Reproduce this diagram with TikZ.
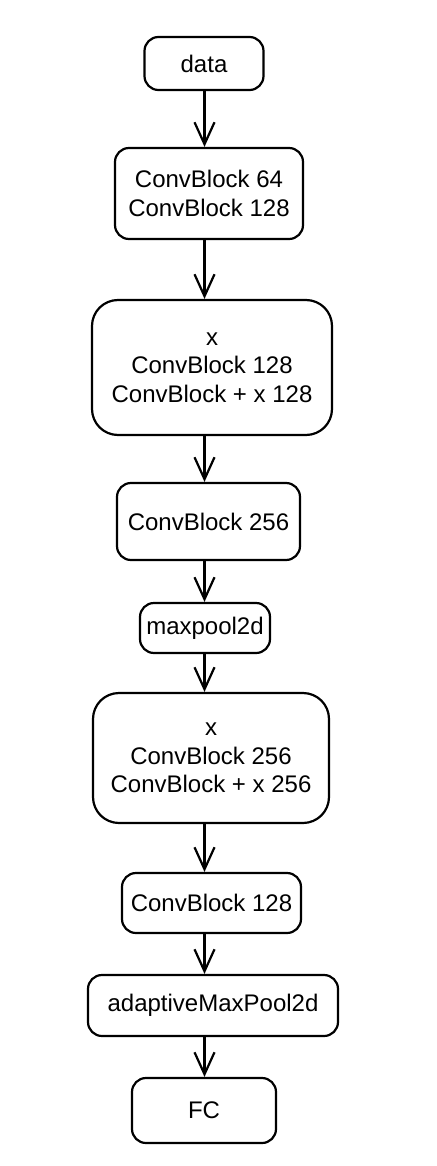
\documentclass[tikz,border=0pt]{standalone}
\usepackage{fontspec}
\setmainfont{Liberation Sans}
\usetikzlibrary{arrows.meta}
\tikzstyle{block} = [rectangle, rounded corners=14pt, draw=black, line width=2.2pt, text centered, align=center, inner sep=0pt, font=\fontsize{24}{28.5}\selectfont]
\tikzstyle{resblock} = [block, rounded corners=26pt]
\tikzstyle{arrow} = [line width=2.2pt, -{Straight Barb[length=22pt, width=20pt, line width=2.2pt]}]

\begin{document}
\begin{tikzpicture}[node distance=100pt]
\useasboundingbox (0,0) rectangle (436pt,-1166pt);
\coordinate (axis) at (204.5pt,0);

\node (data) [block, minimum width=119pt, minimum height=53pt] at (204pt,-63.5pt) {data};
\node (conv1) [block, below of=data, yshift=-30pt, xshift=5pt, minimum width=188pt, minimum height=91pt] {ConvBlock 64\\ConvBlock 128};
\draw [arrow] (axis |- data.south) -- (axis |- conv1.north);

\node (res1) [resblock, below of=conv1, yshift=-74pt, xshift=3pt, minimum width=240pt, minimum height=135pt] {x\\ConvBlock 128\\ConvBlock + x 128};
\draw [arrow] (axis |- conv1.south) -- (axis |- res1.north);
\node (conv2) [block, below of=res1, yshift=-54pt, xshift=-3.5pt, minimum width=183pt, minimum height=77pt] {ConvBlock 256};
\draw [arrow] (axis |- res1.south) -- (axis |- conv2.north);
\node (maxpool) [block, below of=conv2, yshift=-6.5pt, xshift=-3.5pt, minimum width=130pt, minimum height=50pt] {maxpool2d};
\draw [arrow] (axis |- conv2.south) -- (axis |- maxpool.north);

\node (res2) [resblock, below of=maxpool, yshift=-30pt, xshift=6pt, minimum width=236pt, minimum height=130pt] {x\\ConvBlock 256\\ConvBlock + x 256};
\draw [arrow] (axis |- maxpool.south) -- (axis |- res2.north);
\node (conv3) [block, below of=res2, yshift=-45pt, xshift=0.5pt, minimum width=179pt, minimum height=60pt] {ConvBlock 128};
\draw [arrow] (axis |- res2.south) -- (axis |- conv3.north);
\node (adapool) [block, below of=conv3, yshift=-2.5pt, xshift=1.5pt, minimum width=250pt, minimum height=61pt] {adaptiveMaxPool2d};
\draw [arrow] (axis |- conv3.south) -- (axis |- adapool.north);
\node (fc) [block, below of=adapool, yshift=-5pt, xshift=-9pt, minimum width=144pt, minimum height=65pt] {FC};
\draw [arrow] (axis |- adapool.south) -- (axis |- fc.north);

\end{tikzpicture}
\end{document}
